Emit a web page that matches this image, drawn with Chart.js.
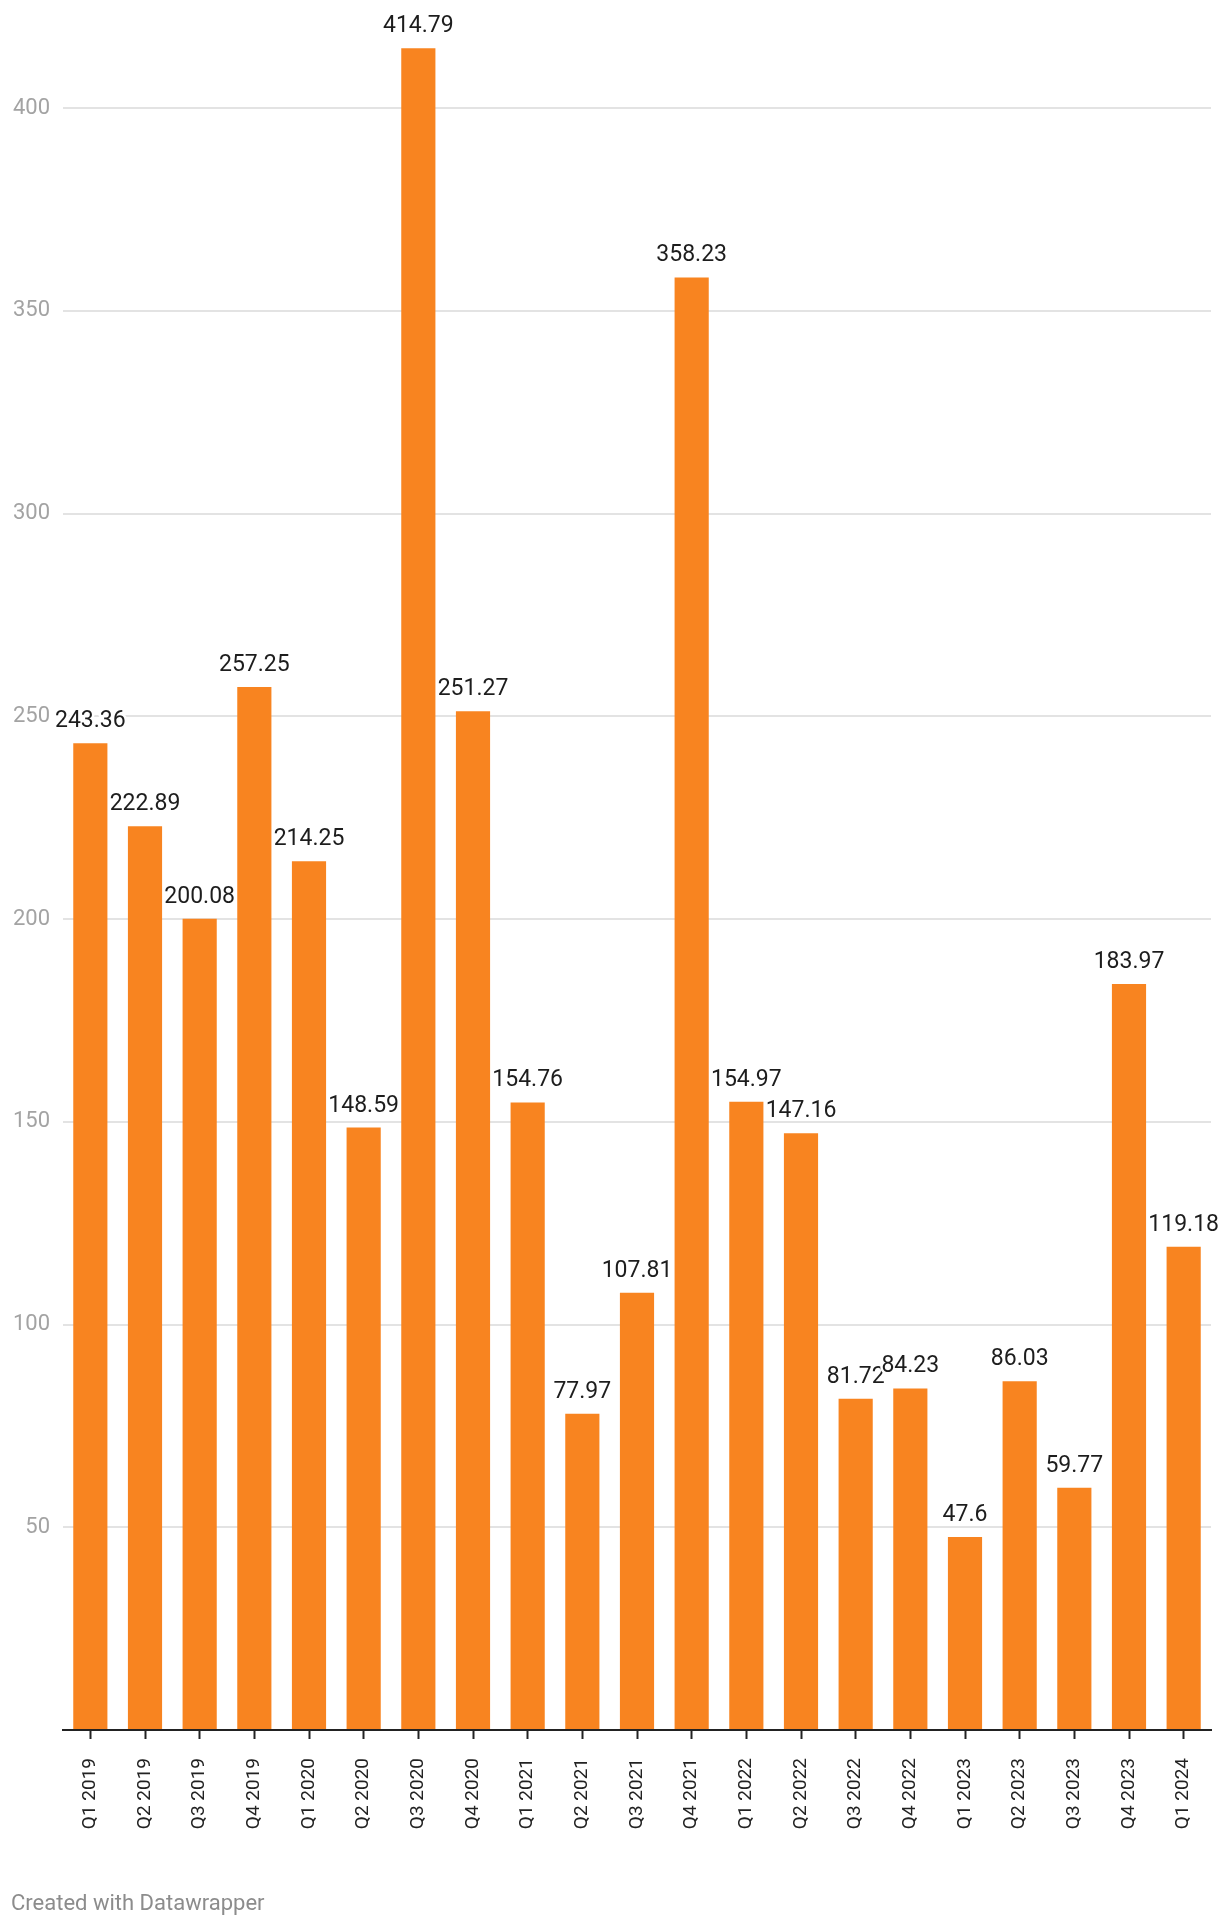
<!DOCTYPE html>
<html><head><meta charset="utf-8">
<script src="https://cdn.jsdelivr.net/npm/chart.js@4/dist/chart.umd.min.js"></script>
<style>
html,body{margin:0;padding:0;background:#fff;}
#wrap{position:absolute;left:0;top:0;width:1220px;height:1926px;}
#footer{position:absolute;left:11px;top:1892px;font-family:Roboto,sans-serif;font-size:22px;line-height:22px;color:#8c8c8c;white-space:nowrap;}
</style></head><body>
<div id="wrap"><canvas id="c"></canvas></div>
<div id="footer">Created with Datawrapper</div>
<script>
const categories = ["Q1 2019","Q2 2019","Q3 2019","Q4 2019","Q1 2020","Q2 2020","Q3 2020","Q4 2020","Q1 2021","Q2 2021","Q3 2021","Q4 2021","Q1 2022","Q2 2022","Q3 2022","Q4 2022","Q1 2023","Q2 2023","Q3 2023","Q4 2023","Q1 2024"];
const values = [243.36,222.89,200.08,257.25,214.25,148.59,414.79,251.27,154.76,77.97,107.81,358.23,154.97,147.16,81.72,84.23,47.6,86.03,59.77,183.97,119.18];
const yTickValues = [50,100,150,200,250,300,350,400];

const valueLabels = {
  id: 'valueLabels',
  afterDatasetsDraw(chart) {
    const ctx = chart.ctx;
    const meta = chart.getDatasetMeta(0);
    ctx.save();
    ctx.font = '23px Roboto';
    ctx.textAlign = 'center';
    ctx.textBaseline = 'alphabetic';
    ctx.lineJoin = 'round';
    meta.data.forEach((bar, i) => {
      const txt = String(chart.data.datasets[0].data[i]);
      const x = bar.x, y = bar.y - 16;
      ctx.strokeStyle = '#ffffff';
      ctx.lineWidth = 5;
      ctx.strokeText(txt, x, y);
      ctx.fillStyle = '#1d1d1d';
      ctx.fillText(txt, x, y);
    });
    ctx.restore();
  }
};

new Chart(document.getElementById('c'), {
  type: 'bar',
  data: {
    labels: categories,
    datasets: [{
      data: values,
      backgroundColor: '#f88420',
      barPercentage: 0.625,
      categoryPercentage: 1.0,
      borderWidth: 0
    }]
  },
  options: {
    responsive: true,
    maintainAspectRatio: false,
    animation: false,
    events: [],
    layout: { padding: { top: 27, right: 9, bottom: 96, left: 0 } },
    plugins: { legend: { display: false }, tooltip: { enabled: false } },
    scales: {
      x: {
        offset: true,
        grid: { display: true, drawOnChartArea: false, drawTicks: true, tickLength: 9, tickColor: '#222222', tickWidth: 2, offset: false },
        border: { display: true, color: '#222222', width: 2 },
        ticks: { font: { family: 'Roboto', size: 19 }, color: '#222222', minRotation: 90, maxRotation: 90, padding: 19, autoSkip: false },
        afterFit(s) { s.height = 100; s.paddingLeft = 0; s.paddingRight = 0; }
      },
      y: {
        min: 0, max: 420,
        border: { display: false },
        grid: { color: (c) => (c.tick && c.tick.value === 0 ? 'rgba(0,0,0,0)' : '#e3e3e3'), lineWidth: 2, drawTicks: false },
        ticks: {
          stepSize: 50, includeBounds: false, padding: 13,
          font: { family: 'Roboto', size: 22 }, color: '#a3a3a3',
          callback: (v) => (yTickValues.includes(v) ? String(v) : '')
        },
        afterFit(s) { s.width = 63; s.paddingTop = 0; s.paddingBottom = 0; }
      }
    }
  },
  plugins: [valueLabels]
});
</script>
</body></html>
